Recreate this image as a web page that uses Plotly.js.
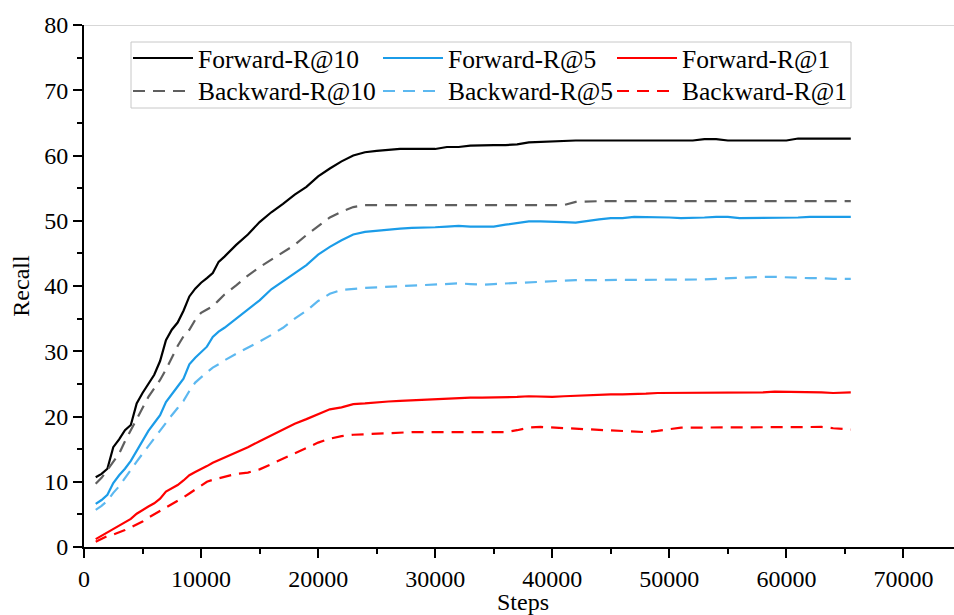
<!DOCTYPE html>
<html>
<head>
<meta charset="utf-8">
<script src="https://cdn.plot.ly/plotly-3.0.1.min.js"></script>
<style>
html,body{margin:0;padding:0;overflow:hidden;background:#fff;}
#chart{width:962px;height:615px;}
</style>
</head>
<body>
<div id="chart"></div>
<script>
var steps = [1000,1500,2000,2500,3000,3500,4000,4500,5000,5500,6000,6500,7000,7500,8000,8500,9000,9500,10000,10500,11000,11500,12000,
13000,14000,15000,16000,17000,18000,19000,20000,21000,22000,23000,24000,25000,26000,27000,28000,29000,30000,
31000,32000,33000,34000,35000,36000,37000,38000,39000,40000,41000,42000,43000,44000,45000,46000,47000,48000,49000,50000,
51000,52000,53000,54000,55000,56000,57000,58000,59000,60000,61000,62000,63000,64000,65500];

var forwardR10 = [10.7,11.2,12.0,15.3,16.5,17.9,18.7,22.0,23.6,25.0,26.4,28.5,31.7,33.3,34.4,36.2,38.4,39.6,40.5,41.2,42.0,43.7,44.5,
46.3,47.9,49.8,51.3,52.6,54.0,55.2,56.8,58.0,59.1,60.0,60.5,60.7,60.9,61.0,61.0,61.0,61.0,
61.3,61.3,61.5,61.6,61.6,61.6,61.7,62.0,62.1,62.2,62.3,62.3,62.3,62.3,62.3,62.3,62.3,62.3,62.3,62.3,
62.3,62.3,62.5,62.5,62.3,62.3,62.3,62.3,62.3,62.3,62.6,62.6,62.6,62.6,62.6];

var forwardR5 = [6.6,7.2,8.0,9.8,11.0,12.0,13.2,14.8,16.4,17.8,19.0,20.2,22.2,23.5,24.6,25.8,28.0,29.0,29.8,30.7,32.2,33.0,33.6,
35.0,36.5,37.8,39.5,40.7,41.9,43.2,44.8,46.0,47.0,47.9,48.3,48.5,48.6,48.8,48.9,48.9,49.0,
49.1,49.2,49.1,49.1,49.1,49.4,49.7,49.9,49.9,49.9,49.8,49.7,50.0,50.2,50.4,50.4,50.6,50.6,50.5,50.5,
50.4,50.4,50.5,50.6,50.6,50.4,50.4,50.4,50.4,50.5,50.5,50.6,50.6,50.6,50.6];

var forwardR1 = [1.2,1.7,2.3,2.8,3.3,3.7,4.3,5.1,5.7,6.2,6.7,7.4,8.5,9.0,9.5,10.2,11.0,11.5,11.9,12.4,12.9,13.3,13.6,
14.5,15.3,16.2,17.1,18.0,18.9,19.6,20.4,21.1,21.4,21.9,22.0,22.2,22.3,22.4,22.5,22.5,22.6,
22.7,22.8,22.9,22.9,22.9,23.0,23.0,23.1,23.0,23.0,23.1,23.2,23.3,23.4,23.4,23.4,23.4,23.5,23.6,23.6,
23.6,23.6,23.7,23.7,23.7,23.7,23.7,23.7,23.8,23.8,23.7,23.7,23.7,23.6,23.7];

var backwardR10 = [9.7,10.6,11.8,13.0,14.3,16.2,17.9,19.8,21.4,23.0,24.3,25.6,27.2,29.0,30.8,32.3,33.3,34.8,35.9,36.4,36.9,37.8,38.7,
40.1,41.6,42.9,44.0,45.1,46.3,47.8,49.1,50.5,51.4,52.1,52.4,52.4,52.4,52.4,52.4,52.4,52.4,
52.4,52.3,52.3,52.3,52.3,52.3,52.4,52.4,52.4,52.4,52.4,52.9,53.0,53.0,53.0,53.0,53.0,53.0,53.0,53.0,
53.0,53.0,53.0,53.0,53.0,53.0,53.0,53.0,53.0,53.0,52.9,53.0,53.0,53.0,53.0];

var backwardR5 = [5.7,6.3,7.1,8.3,9.3,10.5,11.8,13.1,14.3,15.4,16.6,17.8,19.0,20.2,21.3,22.4,23.9,25.2,26.0,26.8,27.5,28.0,28.6,
29.6,30.5,31.5,32.5,33.6,35.0,36.2,37.7,38.8,39.4,39.6,39.7,39.8,39.9,40.0,40.0,40.2,40.3,
40.4,40.4,40.3,40.2,40.3,40.4,40.5,40.5,40.6,40.7,40.8,40.9,40.9,40.9,40.9,41.0,41.0,41.0,41.0,41.0,
41.0,41.0,41.0,41.1,41.2,41.3,41.4,41.4,41.4,41.3,41.2,41.2,41.2,41.1,41.1];

var backwardR1 = [0.8,1.3,1.7,1.9,2.2,2.6,3.0,3.4,3.9,4.5,5.0,5.5,6.0,6.6,7.1,7.6,8.2,8.8,9.5,10.0,10.3,10.5,10.8,
11.2,11.4,11.9,12.7,13.5,14.3,15.2,16.0,16.6,17.0,17.2,17.3,17.3,17.4,17.6,17.6,17.6,17.6,
17.6,17.6,17.6,17.6,17.6,17.6,17.9,18.3,18.4,18.3,18.2,18.1,18.0,17.9,17.8,17.7,17.6,17.6,17.8,18.0,
18.3,18.3,18.3,18.3,18.3,18.3,18.3,18.3,18.3,18.3,18.3,18.4,18.4,18.2,18.0];

var seriesNames = ['Forward-R@10','Forward-R@5','Forward-R@1','Backward-R@10','Backward-R@5','Backward-R@1'];
var yTickVals = [0,10,20,30,40,50,60,70,80];
var xTickVals = [0,10000,20000,30000,40000,50000,60000,70000];

var FONT = 'Times New Roman, Liberation Serif, DejaVu Serif, serif';
var dashPat = '12px,8px';
var styles = [
  {color: '#000000', dash: 'solid'},
  {color: '#1b9ce8', dash: 'solid'},
  {color: '#ff0000', dash: 'solid'},
  {color: '#5f5f5f', dash: dashPat},
  {color: '#5cb8f0', dash: dashPat},
  {color: '#ff0000', dash: dashPat}
];
var seriesValues = [forwardR10, forwardR5, forwardR1, backwardR10, backwardR5, backwardR1];

var data = seriesValues.map(function(v, i){
  return {x: steps, y: v, name: seriesNames[i], type: 'scatter', mode: 'lines', showlegend: false,
    line: {color: styles[i].color, width: 2.2, dash: styles[i].dash}};
});

// custom legend (plot area: 84..962 px wide, 25..547 px tall)
var PL = 84, PW = 878, PB = 547, PH = 522;
function px(xp){ return (xp - PL) / PW; }
function py(yp){ return (PB - yp) / PH; }
var colLine = [133, 383, 617];
var rowY = [58, 91];
var shapes = [
  {type: 'line', xref: 'paper', yref: 'y', x0: 0, x1: 1, y0: 80, y1: 80, line: {color: '#b0b0b0', width: 1}},
  {type: 'rect', xref: 'paper', yref: 'paper', x0: px(131), x1: px(851), y0: py(108), y1: py(42),
    line: {color: '#c8c8c8', width: 1}, fillcolor: '#ffffff', layer: 'above'}
];
var annotations = [];
seriesNames.forEach(function(name, i){
  var c = i % 3, r = Math.floor(i / 3);
  shapes.push({type: 'line', xref: 'paper', yref: 'paper', layer: 'above',
    x0: px(colLine[c]), x1: px(colLine[c] + 60), y0: py(rowY[r]), y1: py(rowY[r]),
    line: {color: styles[i].color, width: 2.2, dash: styles[i].dash}});
  annotations.push({xref: 'paper', yref: 'paper', x: px(colLine[c] + 63), y: py(rowY[r] + 1),
    xanchor: 'left', yanchor: 'middle', showarrow: false, text: name,
    font: {family: FONT, size: 25.5, color: '#000'}});
});

var layout = {
  width: 962, height: 615,
  margin: {l: 84, r: 0, t: 25, b: 68},
  paper_bgcolor: '#fff', plot_bgcolor: '#fff',
  font: {family: FONT, size: 24, color: '#000'},
  showlegend: false,
  xaxis: {
    range: [0, 75000], tickvals: xTickVals, ticktext: xTickVals.map(String),
    showgrid: false, zeroline: false, showline: true, linecolor: '#000', linewidth: 2,
    ticks: 'outside', ticklen: 9, tickwidth: 2, tickcolor: '#000',
    minor: {dtick: 5000, tick0: 0, ticks: 'outside', ticklen: 5, tickwidth: 2, tickcolor: '#000', showgrid: false},
    tickfont: {family: FONT, size: 24, color: '#000'},
    title: {text: 'Steps', font: {family: FONT, size: 24, color: '#000'}, standoff: 6},
    automargin: false
  },
  yaxis: {
    range: [0, 80], tickvals: yTickVals, ticktext: yTickVals.map(String),
    showgrid: false, zeroline: false, showline: true, linecolor: '#000', linewidth: 2,
    ticks: 'outside', ticklen: 9, tickwidth: 2, tickcolor: '#000',
    minor: {dtick: 5, tick0: 0, ticks: 'outside', ticklen: 5, tickwidth: 2, tickcolor: '#000', showgrid: false},
    tickfont: {family: FONT, size: 24, color: '#000'},
    title: {text: 'Recall', font: {family: FONT, size: 24, color: '#000'}, standoff: 8},
    automargin: false
  },
  shapes: shapes,
  annotations: annotations
};

Plotly.newPlot('chart', data, layout, {displayModeBar: false, staticPlot: true});
</script>
</body>
</html>
